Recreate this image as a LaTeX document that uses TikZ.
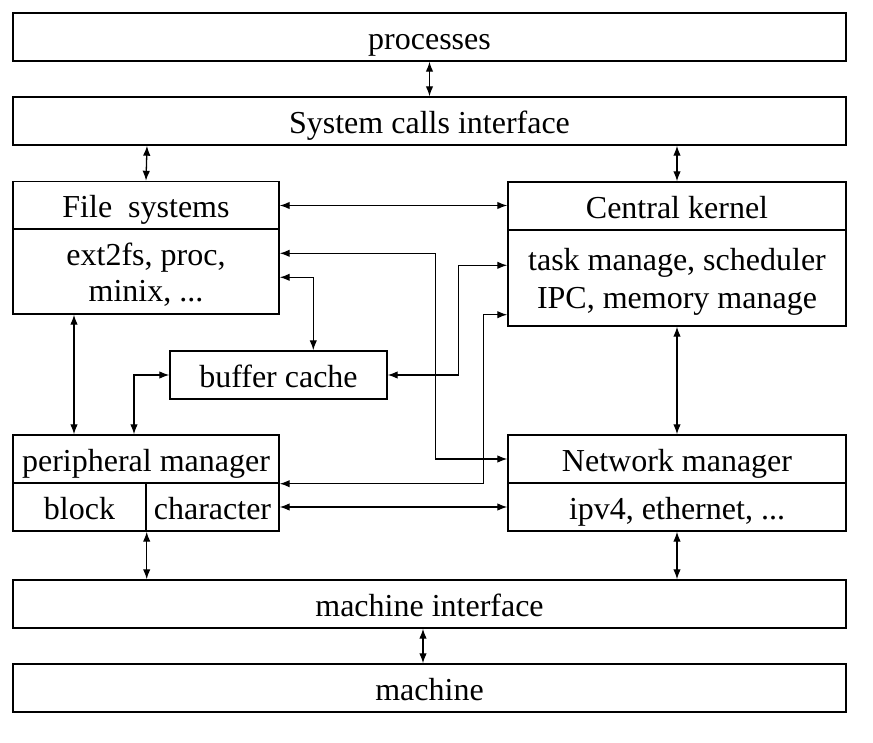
\documentclass[tikz,border=0pt]{standalone}
\usepackage{fontspec}
\setmainfont{Liberation Serif}
\usetikzlibrary{arrows.meta}
\begin{document}
\begin{tikzpicture}[x=1pt,y=-1pt,
  box/.style={draw,line width=1.4pt,inner sep=0pt,minimum height=48pt,
    text height=25pt,text depth=0pt,font=\fontsize{32}{37}\selectfont},
  wide/.style={box,minimum width=833pt},
  tall/.style={draw,line width=1.4pt,inner sep=0pt,align=center,
    font=\fontsize{32}{37}\selectfont},
  arr/.style={line width=1.3pt,{Latex[length=10pt,width=7.5pt]}-{Latex[length=10pt,width=7.5pt]}}]
\useasboundingbox (0,0) rectangle (873,743);
% layers
\node[wide] (proc) at (429.5,37) {processes};
\node[wide] (sys) at (429.5,121) {System calls interface};
\node[wide] (mi) at (429.5,604) {machine interface};
\node[wide] (mach) at (429.5,688) {machine};
% file systems
\node[box,minimum width=266pt] (fs) at (146,205.5) {File\ \ systems};
\node[tall,minimum width=266pt,minimum height=85pt] (fsl) at (146,271.5) {};
\node[font=\fontsize{32}{36}\selectfont,align=center] (fslt) at (146,275) {ext2fs, proc,\\minix, ...};
% central kernel
\node[box,minimum width=338pt] (ck) at (677,206) {Central kernel};
\node[tall,minimum width=338pt,minimum height=96pt] (ckl) at (677,278) {};
\node[font=\fontsize{32}{38}\selectfont,align=center] (cklt) at (677,282) {task manage, scheduler\\IPC, memory manage};
% buffer cache
\node[box,minimum width=217pt] (buf) at (278.5,375) {buffer cache};
% peripheral
\node[box,minimum width=266pt] (pm) at (146,459) {peripheral manager};
\node[box,minimum width=133pt] (pb) at (79.5,507) {block};
\node[box,minimum width=133pt] (pc) at (212.5,507) {character};
% network
\node[box,minimum width=338pt] (nm) at (677,459) {Network manager};
\node[box,minimum width=338pt] (nl) at (677,507) {ipv4, ethernet, ...};
% arrows
\draw[arr] (proc.south) -- (sys.north);
\draw[arr] ([xshift=-282.5pt]sys.south) -- (fs.north);
\draw[arr] ([xshift=247.5pt]sys.south) -- (ck.north);
\draw[arr] (fs.east) -- (fs.east -| ck.west);
\draw[arr] (ckl.south) -- (nm.north);
\draw[arr] ([xshift=-72pt]fsl.south) -- ([xshift=-72pt]pm.north);
\draw[arr] (buf.west) -| ([xshift=-12pt]pm.north);
\draw[arr] ([yshift=-49pt]fsl.north east) -| ([xshift=144pt]buf.north west);
\draw[arr] (buf.east) -| ([xshift=-49pt,yshift=-36pt]ckl.north west) -- ([yshift=-36pt]ckl.north west);
\draw[arr] ([yshift=-25pt]fsl.north east) -| ([xshift=-72pt]nm.west) -- (nm.west);
\draw[arr] (pm.south east) -| ([xshift=-24pt,yshift=12pt]ckl.south west) -- ([yshift=12pt]ckl.south west);
\draw[arr] (pc.east) -- (nl.west);
\draw[arr] (pb.south east) -- (pb.south east |- mi.north);
\draw[arr] (nl.south) -- (nl.south |- mi.north);
\draw[arr] ([xshift=-6.5pt]mi.south) -- ([xshift=-6.5pt]mach.north);
\end{tikzpicture}
\end{document}
